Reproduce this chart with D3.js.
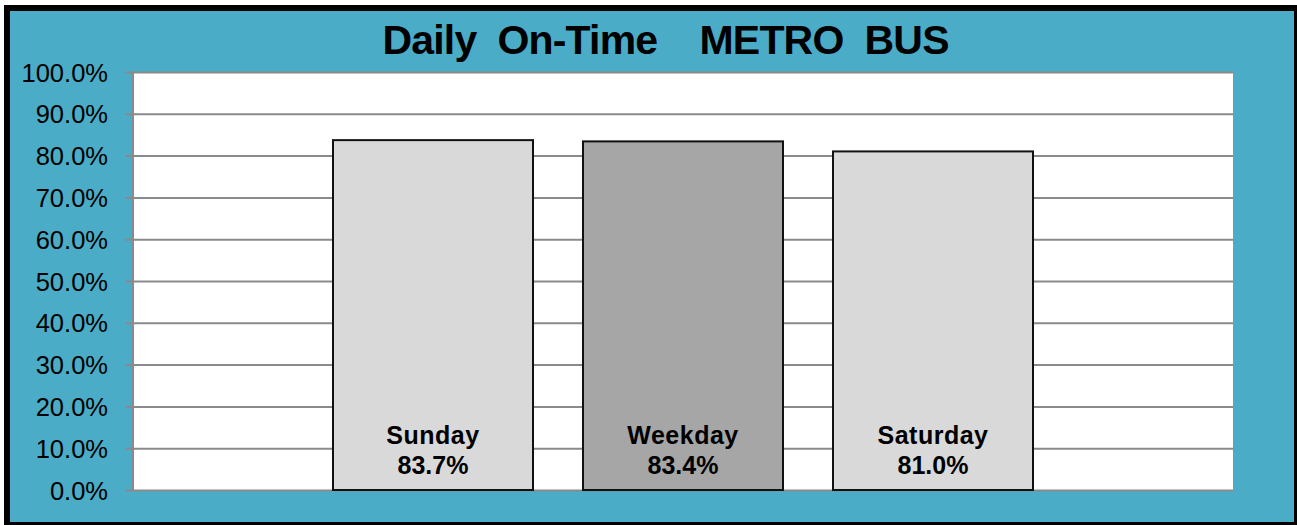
<!DOCTYPE html>
<html>
<head>
<meta charset="utf-8">
<script src="https://cdn.jsdelivr.net/npm/d3@7"></script>
<style>
	html, body { margin: 0; padding: 0; background: #fff; }
	svg { display: block; font-family: Arial, 'Liberation Sans', sans-serif; }
</style>
</head>
<body>
<div id="chart"></div>
<script>
const categories = ['Sunday', 'Weekday', 'Saturday'];
const onTime = [0.837, 0.834, 0.81];
const barColors = ['#d9d9d9', '#a6a6a6', '#d9d9d9'];
const yTicks = [0, 0.1, 0.2, 0.3, 0.4, 0.5, 0.6, 0.7, 0.8, 0.9, 1.0];
const title = 'Daily  On-Time    METRO  BUS';

const WIDTH = 1297;
const HEIGHT = 525;
const TEAL = '#4aacc6';
const GRID = '#8a8a8a';
const margin = { top: 72, right: 64, bottom: 35, left: 133 };
const plotW = WIDTH - margin.left - margin.right;
const plotH = HEIGHT - margin.top - margin.bottom;

const data = categories.map((name, i) => ({ name, value: onTime[i], fill: barColors[i] }));

const $svg = d3.select('#chart')
	.append('svg')
	.attr('width', WIDTH)
	.attr('height', HEIGHT);

// frame: black border with teal fill
$svg.append('rect')
	.attr('x', 4).attr('y', 5)
	.attr('width', WIDTH - 4).attr('height', HEIGHT - 5)
	.attr('fill', '#000');
$svg.append('rect')
	.attr('x', 10).attr('y', 11)
	.attr('width', WIDTH - 13).attr('height', HEIGHT - 14)
	.attr('fill', TEAL);

$svg.append('text')
	.attr('x', 666)
	.attr('y', 54)
	.attr('text-anchor', 'middle')
	.style('white-space', 'pre')
	.attr('font-size', 41)
	.attr('font-weight', 'bold')
	.attr('fill', '#000')
	.attr('textLength', 567)
	.attr('lengthAdjust', 'spacing')
	.text(title);

const $g = $svg.append('g')
	.attr('transform', `translate(${margin.left},${margin.top})`);

const x = d3.scaleBand()
	.domain(categories)
	.range([0, plotW])
	.paddingInner(0.2)
	.paddingOuter(0.8);

const y = d3.scaleLinear()
	.domain([0, 1])
	.range([plotH, 0]);

$g.append('rect')
	.attr('width', plotW)
	.attr('height', plotH)
	.attr('fill', '#fff');

// gridlines
$g.append('g')
	.attr('class', 'grid')
	.call(d3.axisLeft(y).tickValues(yTicks).tickSize(-plotW).tickFormat(''))
	.call(g => g.select('.domain').remove())
	.call(g => g.selectAll('line').attr('stroke', GRID).attr('stroke-width', 2));

// y axis
$g.append('g')
	.attr('class', 'y-axis')
	.call(d3.axisLeft(y).tickValues(yTicks).tickSize(8).tickPadding(17).tickFormat(d3.format('.1%')))
	.call(g => g.select('.domain').attr('stroke', GRID).attr('stroke-width', 2).attr('d', `M0,0V${plotH}`))
	.call(g => g.selectAll('line').attr('stroke', GRID).attr('stroke-width', 2))
	.call(g => g.selectAll('text')
		.attr('font-size', 25.5)
		.attr('font-family', 'Arial, "Liberation Sans", sans-serif')
		.attr('fill', '#000')
		.attr('dy', '0.36em'));

const $bars = $g.selectAll('.bar')
	.data(data)
	.enter()
	.append('g')
	.attr('class', 'bar');

$bars.append('rect')
	.attr('x', d => x(d.name))
	.attr('y', d => y(d.value))
	.attr('width', x.bandwidth())
	.attr('height', d => plotH - y(d.value))
	.attr('fill', d => d.fill)
	.attr('stroke', '#111')
	.attr('stroke-width', 2);

$bars.append('text')
	.attr('x', d => x(d.name) + x.bandwidth() / 2)
	.attr('y', plotH - 46)
	.attr('text-anchor', 'middle')
	.attr('font-size', 25)
	.attr('font-weight', 'bold')
	.attr('letter-spacing', 0.5)
	.text(d => d.name);

$bars.append('text')
	.attr('x', d => x(d.name) + x.bandwidth() / 2)
	.attr('y', plotH - 16)
	.attr('text-anchor', 'middle')
	.attr('font-size', 25)
	.attr('font-weight', 'bold')
	.text(d => d3.format('.1%')(d.value));
</script>
</body>
</html>
